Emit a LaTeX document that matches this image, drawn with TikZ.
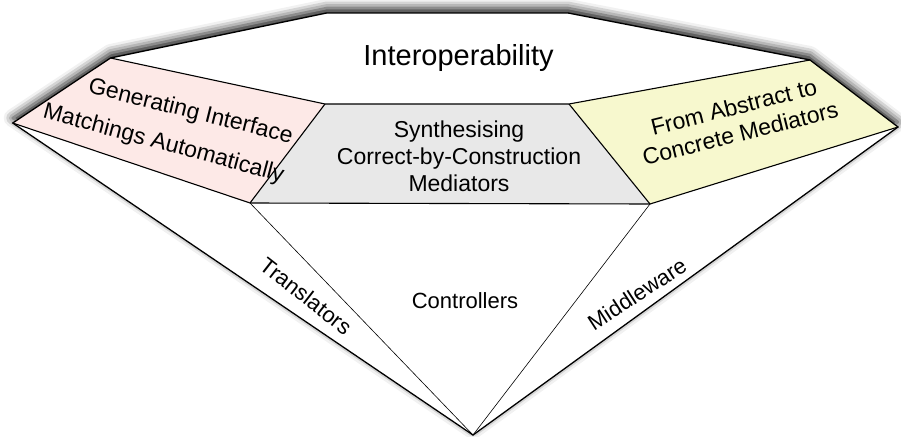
\documentclass[tikz,border=0pt]{standalone}
\usepackage{fontspec}
\setmainfont{Liberation Sans}
\usetikzlibrary{shadows.blur}
\definecolor{pinkface}{RGB}{253,233,231}
\definecolor{yellowface}{RGB}{247,248,206}
\definecolor{grayface}{RGB}{232,232,232}
\tikzset{
  outline/.style={line width=1.3pt, line join=miter},
  edge/.style={line width=1.1pt},
  thinedge/.style={line width=0.6pt},
  lbl/.style={font=\fontsize{23}{27}\selectfont, align=center, inner sep=0pt},
}
\begin{document}
\begin{tikzpicture}[x=1pt,y=-1pt]
\useasboundingbox (0,0) rectangle (901,436);
\coordinate (A) at (12.7,123);
\coordinate (B) at (110.5,58);
\coordinate (C) at (326.7,13);
\coordinate (D) at (568,13);
\coordinate (E) at (810,60);
\coordinate (F) at (898,127);
\coordinate (G) at (473,435);
\coordinate (P1) at (325,104);
\coordinate (P2) at (569,104);
\coordinate (Q1) at (250,203);
\coordinate (Q2) at (650,204);
% body with shadow
\fill[white, blur shadow={shadow xshift=0pt, shadow yshift=5pt, shadow blur radius=9pt, shadow opacity=90}]
  (A) -- (B) -- (C) -- (D) -- (E) -- (F) -- (G) -- cycle;
% facets
\fill[pinkface] (A) -- (B) -- (P1) -- (Q1) -- cycle;
\fill[grayface] (P1) -- (P2) -- (Q2) -- (Q1) -- cycle;
\fill[yellowface] (P2) -- (E) -- (F) -- (Q2) -- cycle;
% inner lines
\draw[edge] (B) -- (P1) -- (P2) -- (E);
\draw[edge] (P1) -- (Q1);
\draw[edge] (P2) -- (Q2);
\draw[edge] (A) -- (Q1) -- (Q2) -- (F);
\draw[thinedge] (Q1) -- (G) -- (Q2);
% outline
\draw[outline] (A) -- (B) -- (C) -- (D) -- (E) -- (F) -- (G) -- cycle;
% labels
\node[lbl, font=\fontsize{29}{33}\selectfont, anchor=base] (interop) at (458.5,66) {Interoperability};
\node[lbl] (synth) at (459,156) {Synthesising\\Correct-by-Construction\\Mediators};
\node[lbl, font=\fontsize{22}{26}\selectfont, anchor=base] (ctrl) at (465,308) {Controllers};
\node[lbl, rotate=-14, anchor=base] (gen1) at (189,118) {Generating Interface};
\node[lbl, rotate=-15, anchor=base] (gen2) at (162,150) {Matchings Automatically};
\node[lbl, rotate=14] (abs) at (737,120) {From Abstract to\\Concrete Mediators};
\node[lbl, font=\fontsize{22}{26}\selectfont, rotate=-38] (trans) at (306,296) {Translators};
\node[lbl, font=\fontsize{22}{26}\selectfont, rotate=33] (mid) at (637,294) {Middleware};
\end{tikzpicture}
\end{document}
